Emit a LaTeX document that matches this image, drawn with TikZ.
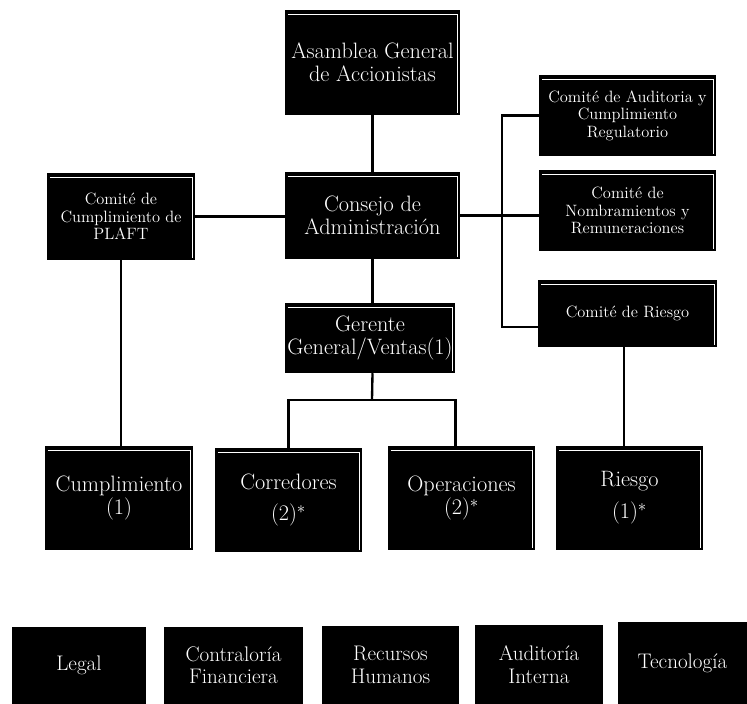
\documentclass[tikz,border=0pt]{standalone}
\usepackage{tikz}

\begin{document}
\begin{tikzpicture}[x=0.03cm, y=-0.03cm,
  box/.style={fill=black, text=white, align=center, inner sep=0pt},
  shadebox/.style={box, path picture={
    \draw[white, line width=0.6pt]
      ([xshift=0.09cm, yshift=-0.13cm]path picture bounding box.north west)
      -- ([xshift=-0.08cm, yshift=-0.13cm]path picture bounding box.north east)
      -- ([xshift=-0.08cm, yshift=0.06cm]path picture bounding box.south east);}},
  bigtext/.style={font=\fontsize{19}{19.5}\selectfont},
  comtext/.style={font=\fontsize{14}{15}\selectfont},
  stafftext/.style={font=\fontsize{18}{19}\selectfont},
  link/.style={line width=2pt}]

\useasboundingbox (0,0) rectangle (747,704);

% top
\node[shadebox, bigtext, minimum width=5.25cm, minimum height=3.15cm] (asamblea) at (372.5,62.5) {Asamblea General\\de Accionistas};
\node[shadebox, bigtext, minimum width=5.25cm, minimum height=2.61cm] (consejo) at (372.5,215.5) {Consejo de\\Administración};
\node[shadebox, bigtext, minimum width=5.1cm, minimum height=2.1cm] (gerente) at (370,338) {Gerente\\General/Ventas(1)};

% comites
\node[shadebox, comtext, minimum width=4.44cm, minimum height=2.61cm] (plaft) at (121,216.5) {Comité de\\Cumplimiento de\\PLAFT};
\node[shadebox, comtext, minimum width=5.31cm, minimum height=2.43cm] (auditoria) at (627.5,115.5) {Comité de Auditoria y\\Cumplimiento\\Regulatorio};
\node[shadebox, comtext, minimum width=5.31cm, minimum height=2.43cm] (nombramientos) at (627.5,210.5) {Comité de\\Nombramientos y\\Remuneraciones};
\node[shadebox, comtext, minimum width=5.37cm, minimum height=2.01cm] (comriesgo) at (627.5,313.5) {Comité de Riesgo};

% areas
\node[shadebox, bigtext, minimum width=4.44cm, minimum height=3.12cm] (cumplimiento) at (119,498) {Cumplimiento\\(1)};
\node[shadebox, bigtext, minimum width=4.41cm, minimum height=3.12cm] (corredores) at (288.5,500) {Corredores\\[7pt](2)$^{*}$};
\node[shadebox, bigtext, minimum width=4.41cm, minimum height=3.12cm] (operaciones) at (461.5,498) {Operaciones\\(2)$^{*}$};
\node[shadebox, bigtext, minimum width=4.41cm, minimum height=3.12cm] (riesgo) at (629.5,498) {Riesgo\\[8pt](1)$^{*}$};

% staff
\node[box, stafftext, minimum width=4.02cm, minimum height=2.31cm] (legal) at (79,665.5) {Legal};
\node[box, stafftext, minimum width=4.17cm, minimum height=2.31cm] (contraloria) at (233.5,665.5) {Contraloría\\Financiera};
\node[box, stafftext, minimum width=4.11cm, minimum height=2.34cm] (recursos) at (390.5,665) {Recursos\\Humanos};
\node[box, stafftext, minimum width=3.84cm, minimum height=2.37cm] (auditint) at (539,664.5) {Auditoría\\Interna};
\node[box, stafftext, minimum width=3.87cm, minimum height=2.46cm] (tecnologia) at (682.5,663) {Tecnología};

% lines
\coordinate (bus) at (502,327);
\coordinate (bar) at (372,400);
\draw[link] (asamblea) -- (consejo);
\draw[link] (plaft.east) -- (plaft.east -| consejo.west);
\draw[link] (consejo.east) -- (consejo.east -| nombramientos.west);
\draw[link] (auditoria.west) -| (bus) -- (bus -| comriesgo.west);
\draw[link] (consejo.south) -- (consejo.south |- gerente.north);
\draw[link] (consejo.south |- gerente.south) -- (bar);
\draw[link] (corredores.north) |- (bar) -| ([xshift=-0.18cm]operaciones.north);
\draw[link] (plaft.south) -- (plaft.south |- cumplimiento.north);
\draw[link] ([xshift=-0.1cm]comriesgo.south) -- ([xshift=-0.1cm]comriesgo.south |- riesgo.north);

\end{tikzpicture}
\end{document}
